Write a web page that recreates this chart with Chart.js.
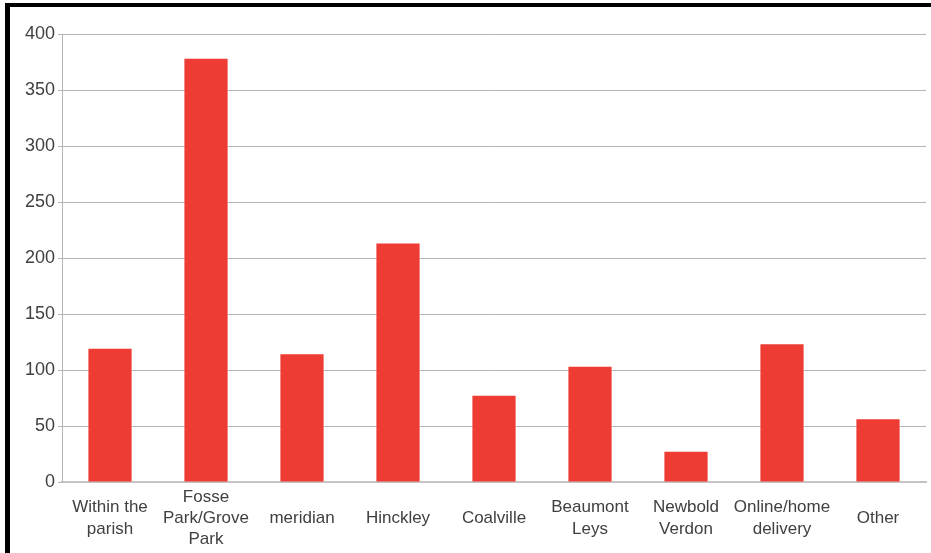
<!DOCTYPE html>
<html>
<head>
<meta charset="utf-8">
<script src="https://cdn.jsdelivr.net/npm/chart.js@4/dist/chart.umd.min.js"></script>
<style>
  html, body { margin: 0; padding: 0; background: #fff; }
  #wrap { position: absolute; left: 0; top: 0; width: 931px; height: 553px; }
  #frame { position: absolute; left: 5px; top: 3px; width: 926px; height: 550px; border-left: 5px solid #000; border-top: 4px solid #000; box-sizing: border-box; pointer-events: none; }
  canvas { position: absolute; left: 0; top: 0; }
</style>
</head>
<body>
<div id="wrap">
  <canvas id="c" width="931" height="553"></canvas>
  <div id="frame"></div>
</div>
<script>
const categories = [
  ["Within the", "parish"],
  ["Fosse", "Park/Grove", "Park"],
  "meridian",
  "Hinckley",
  "Coalville",
  ["Beaumont", "Leys"],
  ["Newbold", "Verdon"],
  ["Online/home", "delivery"],
  "Other"
];
const values = [119, 378, 114, 213, 77, 103, 27, 123, 56];
const yTicks = [0, 50, 100, 150, 200, 250, 300, 350, 400];

const fontFamily = '"Liberation Sans", Arial, sans-serif';

new Chart(document.getElementById('c'), {
  type: 'bar',
  data: {
    labels: categories,
    datasets: [{
      data: values,
      backgroundColor: '#EE3B33',
      borderWidth: 0,
      barPercentage: 0.45,
      categoryPercentage: 1.0
    }]
  },
  options: {
    responsive: false,
    animation: false,
    devicePixelRatio: 1,
    layout: { padding: { left: 10, right: 5, top: 34, bottom: 0 } },
    plugins: { legend: { display: false }, tooltip: { enabled: false } },
    scales: {
      x: {
        grid: { display: false },
        border: { display: true, color: '#c4c4c4', width: 2 },
        ticks: {
          color: '#404040',
          font: { family: fontFamily, size: 17, lineHeight: 1.25 },
          padding: 7,
          crossAlign: 'center',
          maxRotation: 0,
          minRotation: 0,
          autoSkip: false
        },
        afterFit: s => { s.height = 71; }
      },
      y: {
        min: 0,
        max: 400,
        afterBuildTicks: s => { s.ticks = yTicks.map(v => ({ value: v })); },
        grid: { color: '#b4b4b4', lineWidth: 1, tickLength: 4, drawTicks: true },
        border: { display: true, color: '#b4b4b4', width: 1 },
        ticks: {
          color: '#404040',
          font: { family: fontFamily, size: 18 },
          padding: 3
        },
        afterFit: s => { s.width = 52; }
      }
    }
  }
});
</script>
</body>
</html>
